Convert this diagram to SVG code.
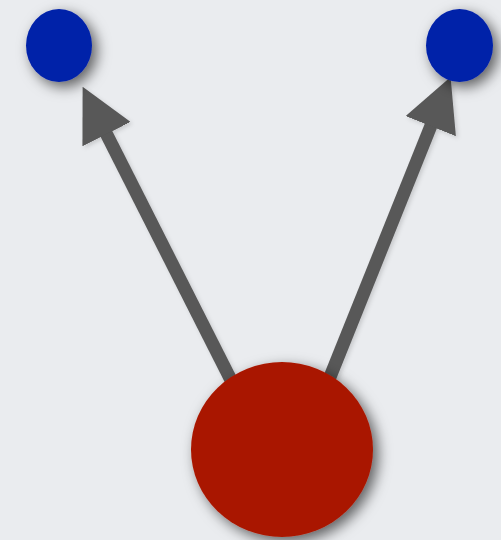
<svg xmlns="http://www.w3.org/2000/svg" width="501" height="540" viewBox="0 0 501 540">
  <defs>
    <filter id="shadow" x="-40%" y="-40%" width="190%" height="190%">
      <feDropShadow dx="5" dy="5" stdDeviation="7" flood-color="#000" flood-opacity="0.6"/>
    </filter>
    <filter id="lshadow" x="-30%" y="-30%" width="170%" height="170%">
      <feDropShadow dx="2" dy="2" stdDeviation="2" flood-color="#000" flood-opacity="0.15"/>
    </filter>
    <marker id="head" markerUnits="userSpaceOnUse" viewBox="0 0 53 54" refX="1" refY="27" markerWidth="53" markerHeight="54" orient="auto">
      <path d="M0,0 L53,27 L0,54 z" fill="#585858"/>
    </marker>
    <style>
      .edge { stroke: #585858; stroke-width: 13; fill: none; marker-end: url(#head); filter: url(#lshadow); }
      .blue { fill: #0021a9; filter: url(#shadow); }
      .red { fill: #a91800; filter: url(#shadow); }
    </style>
  </defs>
  <rect width="501" height="540" fill="#eaecef"/>
  <g id="connectors">
    <line class="edge" x1="234" y1="386" x2="106.1" y2="133.2"/>
    <line class="edge" x1="328" y1="382" x2="431.2" y2="125.2"/>
  </g>
  <g id="node-left">
    <ellipse class="blue" cx="59" cy="45.5" rx="33" ry="36.5"/>
  </g>
  <g id="node-right">
    <ellipse class="blue" cx="459.5" cy="45.5" rx="33.5" ry="36.5"/>
  </g>
  <g id="node-center">
    <ellipse class="red" cx="282" cy="449.5" rx="91" ry="87.5"/>
  </g>
</svg>
